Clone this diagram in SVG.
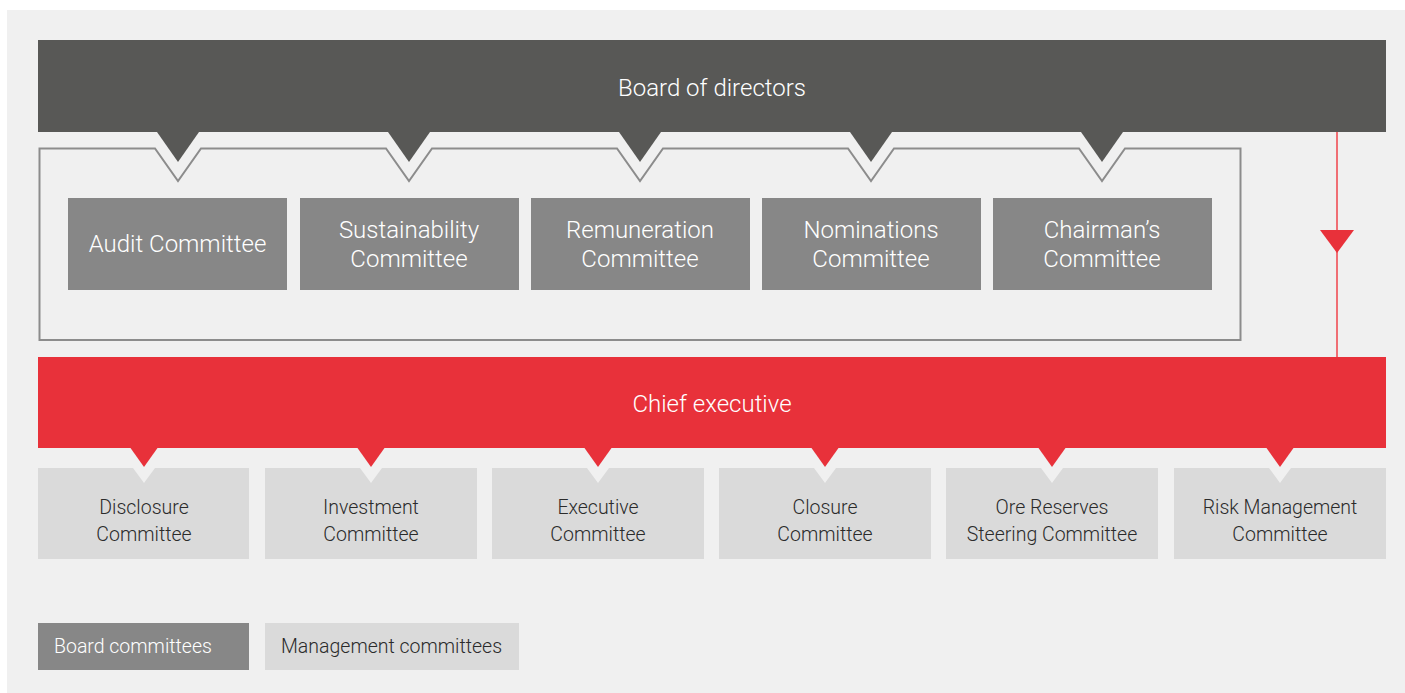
<svg xmlns="http://www.w3.org/2000/svg" width="1405" height="693" viewBox="0 0 1405 693">
<style>
text{font-family:Roboto,"Liberation Sans",sans-serif;font-weight:300;text-anchor:middle}
.bc{fill:#878787}
.mc{fill:#dadada}
.wt{fill:#ffffff;font-size:24px}
.dt{fill:#2b2b2b;font-size:19.5px}
.red{fill:#e8313a}
.lg{font-size:19.5px;text-anchor:start}
</style>
<defs>
<path id="bchev" d="M-21,0 L21,0 L0,30 Z" fill="#585856"/>
<path id="rchev" d="M-13.5,0 L13.5,0 L0,19 Z" fill="#e8313a"/>
</defs>
<rect x="7" y="10" width="1398" height="683" fill="#f0f0f0"/>
<g id="board">
<rect x="38" y="40" width="1348" height="92" fill="#585856"/>
<use href="#bchev" x="178" y="132"/>
<use href="#bchev" x="409" y="132"/>
<use href="#bchev" x="640" y="132"/>
<use href="#bchev" x="871" y="132"/>
<use href="#bchev" x="1102" y="132"/>
<text class="wt" x="712" y="96">Board of directors</text>
</g>
<g id="board-committees-frame">
<path d="M39.5,148.5 L155,148.5 L178,181 L201,148.5 L386,148.5 L409,181 L432,148.5 L617,148.5 L640,181 L663,148.5 L848,148.5 L871,181 L894,148.5 L1079,148.5 L1102,181 L1125,148.5 L1240.5,148.5 L1240.5,340 L39.5,340 Z" fill="none" stroke="#8c8c8c" stroke-width="2"/>
</g>
<g id="audit"><rect class="bc" x="68" y="198" width="219" height="92"/><text class="wt" x="177.5" y="252">Audit Committee</text></g>
<g id="sustainability"><rect class="bc" x="300" y="198" width="219" height="92"/><text class="wt" x="409" y="238">Sustainability</text><text class="wt" x="409" y="267">Committee</text></g>
<g id="remuneration"><rect class="bc" x="531" y="198" width="219" height="92"/><text class="wt" x="640" y="238">Remuneration</text><text class="wt" x="640" y="267">Committee</text></g>
<g id="nominations"><rect class="bc" x="762" y="198" width="219" height="92"/><text class="wt" x="871" y="238">Nominations</text><text class="wt" x="871" y="267">Committee</text></g>
<g id="chairmans"><rect class="bc" x="993" y="198" width="219" height="92"/><text class="wt" x="1102" y="238">Chairman’s</text><text class="wt" x="1102" y="267">Committee</text></g>
<g id="connectors">
<line x1="1337" y1="132" x2="1337" y2="357" stroke="#f0434b" stroke-width="1.5"/>
<path d="M1320,230 L1354,230 L1337,253 Z" class="red"/>
</g>
<g id="chief">
<rect x="38" y="357" width="1348" height="91" class="red"/>
<use href="#rchev" x="144" y="448"/>
<use href="#rchev" x="371" y="448"/>
<use href="#rchev" x="598" y="448"/>
<use href="#rchev" x="825" y="448"/>
<use href="#rchev" x="1052" y="448"/>
<use href="#rchev" x="1280" y="448"/>
<text class="wt" x="712" y="412">Chief executive</text>
</g>
<g id="disclosure"><path class="mc" d="M38,468 H133 L144,483 L155,468 H249 V559 H38 Z"/><text class="dt" x="144" y="514">Disclosure</text><text class="dt" x="144" y="541">Committee</text></g>
<g id="investment"><path class="mc" d="M265,468 H360 L371,483 L382,468 H477 V559 H265 Z"/><text class="dt" x="371" y="514">Investment</text><text class="dt" x="371" y="541">Committee</text></g>
<g id="executive"><path class="mc" d="M492,468 H587 L598,483 L609,468 H704 V559 H492 Z"/><text class="dt" x="598" y="514">Executive</text><text class="dt" x="598" y="541">Committee</text></g>
<g id="closure"><path class="mc" d="M719,468 H814 L825,483 L836,468 H931 V559 H719 Z"/><text class="dt" x="825" y="514">Closure</text><text class="dt" x="825" y="541">Committee</text></g>
<g id="ore-reserves"><path class="mc" d="M946,468 H1041 L1052,483 L1063,468 H1158 V559 H946 Z"/><text class="dt" x="1052" y="514">Ore Reserves</text><text class="dt" x="1052" y="541">Steering Committee</text></g>
<g id="risk-management"><path class="mc" d="M1174,468 H1269 L1280,483 L1291,468 H1386 V559 H1174 Z"/><text class="dt" x="1280" y="514">Risk Management</text><text class="dt" x="1280" y="541">Committee</text></g>
<g id="legend-board"><rect class="bc" x="38" y="623" width="211" height="47"/><text class="lg" x="54" y="653" fill="#ffffff">Board committees</text></g>
<g id="legend-management"><rect class="mc" x="265" y="623" width="254" height="47"/><text class="lg" x="281" y="653" fill="#2b2b2b">Management committees</text></g>
</svg>
